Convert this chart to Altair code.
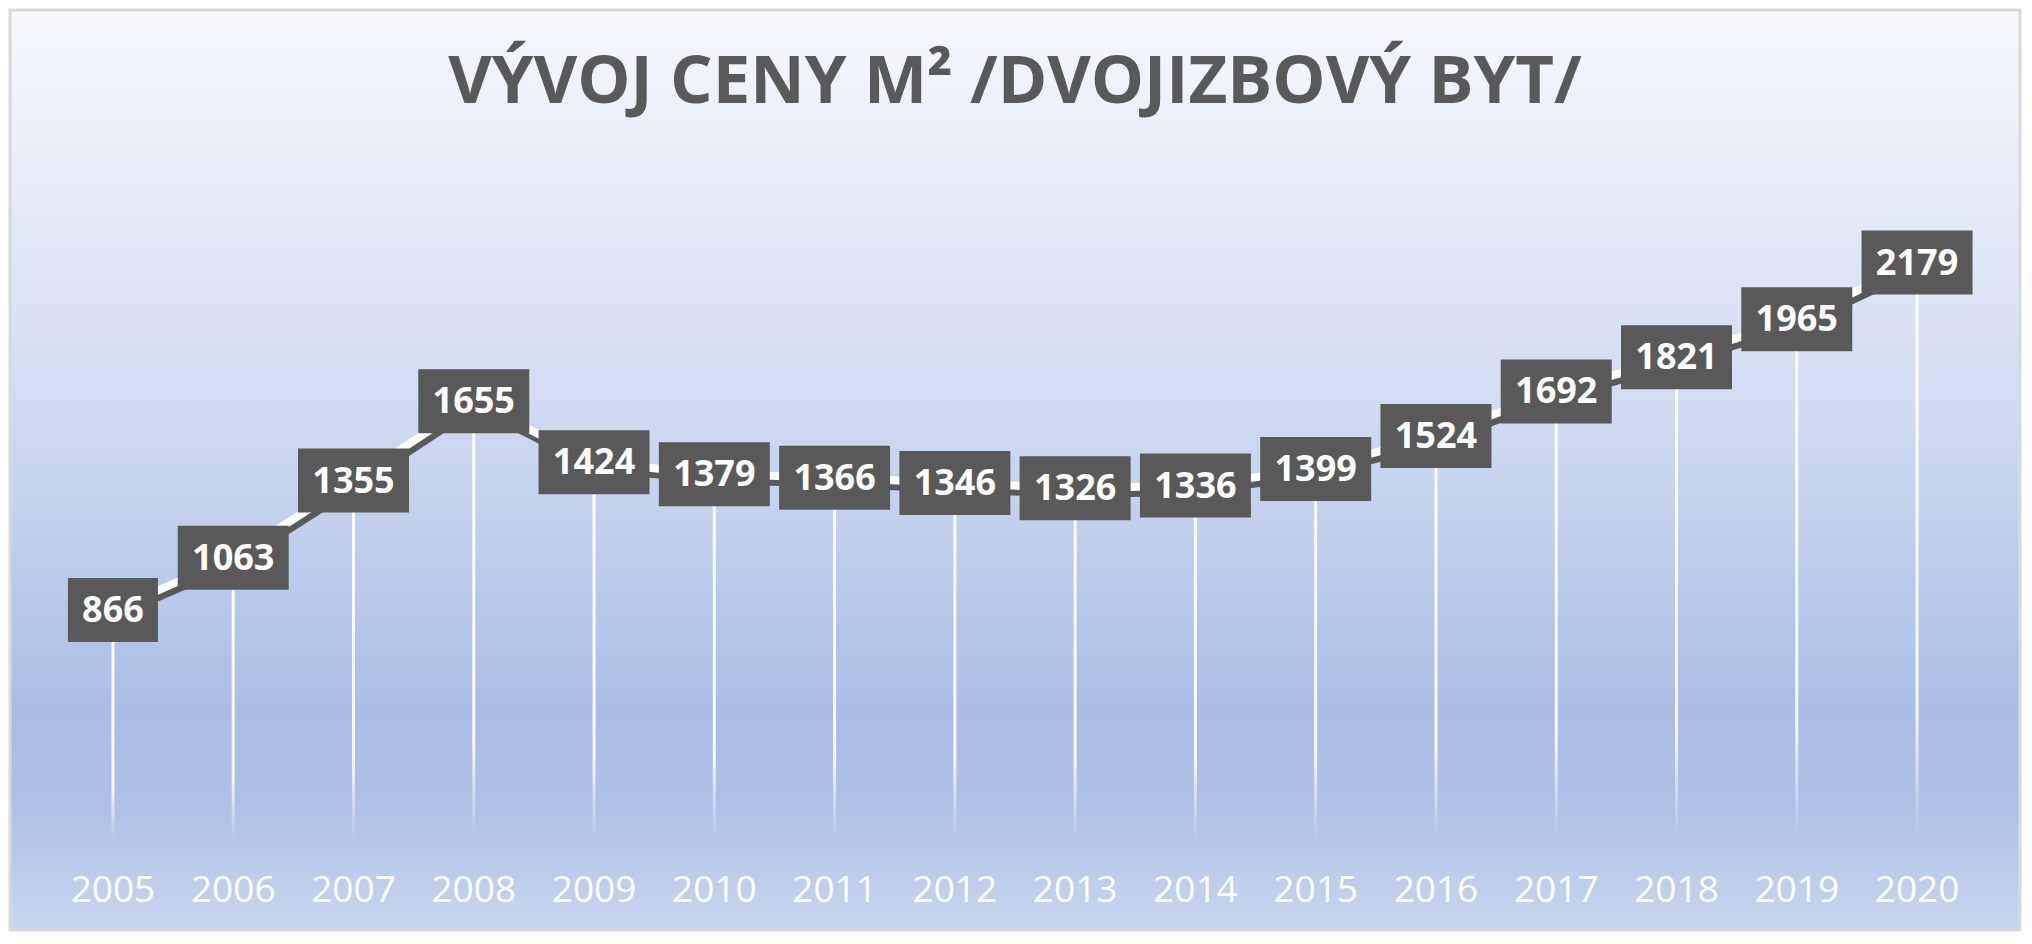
import altair as alt
import pandas as pd

years = ["2005", "2006", "2007", "2008", "2009", "2010", "2011", "2012",
         "2013", "2014", "2015", "2016", "2017", "2018", "2019", "2020"]
prices = [866, 1063, 1355, 1655, 1424, 1379, 1366, 1346,
          1326, 1336, 1399, 1524, 1692, 1821, 1965, 2179]
title_text = "VÝVOJ CENY M² /DVOJIZBOVÝ BYT/"

df = pd.DataFrame({"year": years, "price": prices})

W, H = 2010, 920
DARK = "#595959"

x_enc = alt.X("year:O", scale=alt.Scale(type="point", padding=0.856), axis=None)
y_scale = alt.Scale(domain=[-344, 3134], nice=False, zero=False)
y_enc = alt.Y("price:Q", scale=y_scale, axis=None)

base = alt.Chart(df).transform_calculate(
    ndig="length(toString(datum.price))"
)

bg_grad = alt.Gradient(
    gradient="linear", x1=0, x2=0, y1=0, y2=1,
    stops=[
        alt.GradientStop(color="#f6f8fd", offset=0),
        alt.GradientStop(color="#d4def2", offset=0.4),
        alt.GradientStop(color="#aabee5", offset=0.76),
        alt.GradientStop(color="#adc0e6", offset=0.86),
        alt.GradientStop(color="#c8d6ef", offset=1),
    ],
)

background = alt.Chart(pd.DataFrame({"bg": [0]})).mark_rect(
    fill=bg_grad, stroke="#d9d9d9", strokeWidth=3
).encode(
    x=alt.value(0), x2=alt.value(W), y=alt.value(0), y2=alt.value(H)
)

title = alt.Chart(pd.DataFrame({"t": [title_text]})).mark_text(
    font="Open Sans", fontSize=67, fontWeight="bold", color=DARK,
    align="center", baseline="alphabetic",
).encode(x=alt.value(W / 2), y=alt.value(93), text="t:N")

drop_grad = alt.Gradient(
    gradient="linear", x1=0, x2=0, y1=0, y2=1,
    stops=[
        alt.GradientStop(color="rgba(255,255,255,0.95)", offset=0),
        alt.GradientStop(color="rgba(255,255,255,0.9)", offset=0.78),
        alt.GradientStop(color="rgba(255,255,255,0)", offset=1),
    ],
)

drops = base.mark_bar(width=3, fill=drop_grad, strokeWidth=0).encode(
    x=x_enc, y=y_enc, y2=alt.datum(0)
)

shadow = base.mark_line(color=DARK, strokeWidth=8, yOffset=6, xOffset=2).encode(
    x=x_enc, y=y_enc
)
line = base.mark_line(color="white", strokeWidth=8).encode(x=x_enc, y=y_enc)

box3 = "M-0.8108,-0.5766 L0.8108,-0.5766 L0.8108,0.5766 L-0.8108,0.5766 Z"
box4 = "M-1,-0.5766 L1,-0.5766 L1,0.5766 L-1,0.5766 Z"

boxes3 = base.transform_filter("datum.ndig == 3").mark_point(
    shape=box3, filled=True, opacity=1, fill=DARK, strokeWidth=0, size=12321
).encode(x=x_enc, y=y_enc)
boxes4 = base.transform_filter("datum.ndig == 4").mark_point(
    shape=box4, filled=True, opacity=1, fill=DARK, strokeWidth=0, size=12321
).encode(x=x_enc, y=y_enc)

labels = base.mark_text(
    font="Open Sans", fontWeight="bold", fontSize=36, color="white",
    baseline="middle", align="center", dy=1,
).encode(x=x_enc, y=y_enc, text=alt.Text("price:Q", format="d"))

year_labels = base.mark_text(
    font="Open Sans", fontSize=37, color="white",
    baseline="alphabetic", align="center",
).encode(x=x_enc, y=alt.value(892), text="year:N")

chart = alt.layer(
    background, title, drops, shadow, line, boxes3, boxes4, labels, year_labels
).properties(
    width=W, height=H, padding=0,
).configure_view(stroke=None)

chart.save("out.html", embed_options={"renderer": "svg", "actions": False})
